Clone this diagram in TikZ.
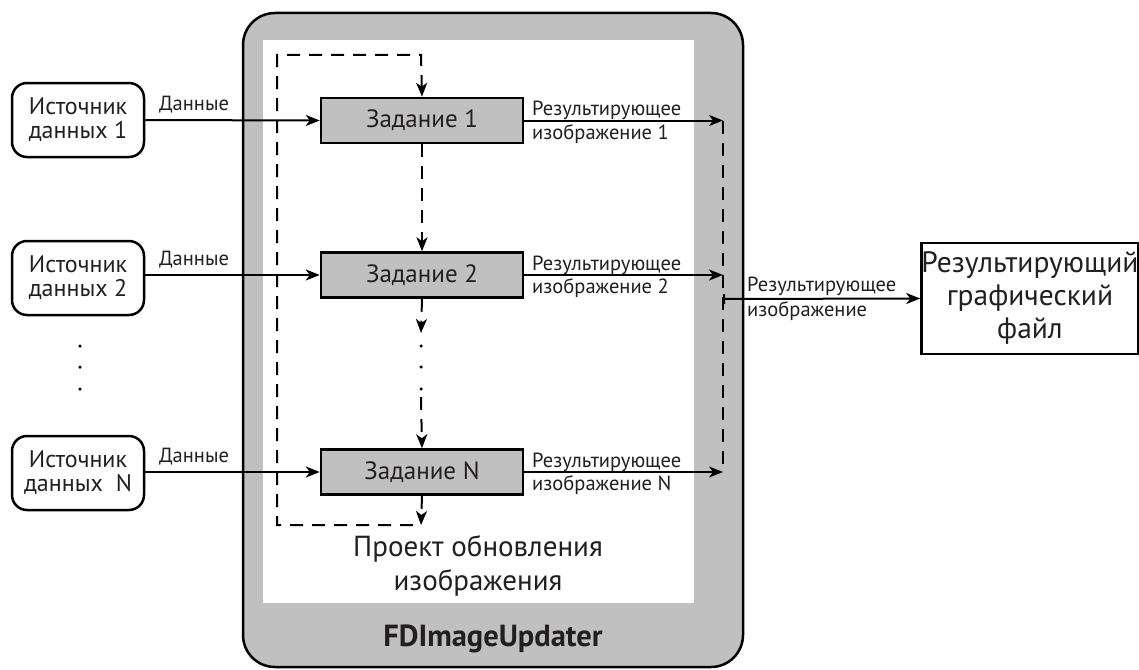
\documentclass[tikz,border=0pt]{standalone}
\usepackage{fontspec}
\setmainfont{PT Sans}
\usetikzlibrary{arrows.meta}
\definecolor{boxgray}{HTML}{C0C0C0}
\definecolor{txt}{HTML}{231F20}
\tikzset{
  srcbox/.style={draw, line width=2.5pt, rounded corners=15pt, minimum width=132pt, minimum height=74pt, align=center, font=\fontsize{24}{24}\selectfont, text=txt, inner sep=0pt},
  taskbox/.style={draw, line width=2.5pt, fill=boxgray, minimum width=202pt, minimum height=45pt, font=\fontsize{25}{26}\selectfont, text=txt, inner sep=0pt},
  resbox/.style={draw, line width=2.5pt, minimum width=214pt, minimum height=111pt, align=center, font=\fontsize{29.5}{33}\selectfont, text=txt, inner sep=0pt},
  arr/.style={line width=2pt, -{Stealth[length=14pt,width=11pt,inset=4pt]}},
  dasharr/.style={line width=2pt, dash pattern=on 13pt off 9pt, -{Stealth[length=14pt,width=11pt,inset=4pt]}},
  dashln/.style={line width=2pt, dash pattern=on 13pt off 9pt},
  small/.style={font=\fontsize{20.5}{22}\selectfont, text=txt, inner sep=0pt},
  dot/.style={circle, fill=black, inner sep=0pt, minimum size=3.5pt},
}
\begin{document}
\begin{tikzpicture}[x=1pt,y=-1pt]
\useasboundingbox (0,0) rectangle (1139,669);
% outer container
\draw[line width=2.5pt, fill=boxgray, rounded corners=32pt] (243,13) rectangle (743,667);
\fill[white] (263,40) rectangle (694,603);
\node[font=\bfseries\fontsize{30.5}{32}\selectfont, text=txt, anchor=base, inner sep=0pt] (app) at (493,646) {FDImageUpdater};
\node[font=\fontsize{29}{34}\selectfont, text=txt, align=center] (proj) at (478,566) {Проект обновления\\изображения};

% sources
\node[srcbox] (s1) at (78,120) {Источник\\данных 1};
\node[srcbox] (s2) at (78,278) {Источник\\данных 2};
\node[srcbox] (sN) at (78,473) {Источник\\данных\ \ N};
\node[dot] (ld1) at (80,346) {};
\node[dot] (ld2) at (80,367) {};
\node[dot] (ld3) at (80,389) {};

% tasks
\node[taskbox] (t1) at (422,120.5) {Задание 1};
\node[taskbox] (t2) at (422,275) {Задание 2};
\node[taskbox] (tN) at (422,472) {Задание N};

% data arrows
\draw[arr] (s1.east) -- (t1.west);
\draw[arr] (s2.east |- t2.west) -- (t2.west);
\draw[arr] (sN.east |- tN.west) -- (tN.west);
\node[small, anchor=base] (d1) at (194,110) {Данные};
\node[small, anchor=base] (d2) at (194,265) {Данные};
\node[small, anchor=base] (dN) at (194,462) {Данные};

% results
\coordinate (r1) at (723,120.5);
\coordinate (r2) at (723,275);
\coordinate (rN) at (723,472);
\draw[arr] (t1.east) -- (r1);
\draw[arr] (t2.east) -- (r2);
\draw[arr] (tN.east) -- (rN);
\node[small, anchor=base west] (l1a) at (532,115.5) {Результирующее};
\node[small, anchor=base west] (l1b) at (532,139) {изображение 1};
\node[small, anchor=base west] (l2a) at (532,270) {Результирующее};
\node[small, anchor=base west] (l2b) at (532,293.5) {изображение 2};
\node[small, anchor=base west] (lNa) at (532,467) {Результирующее};
\node[small, anchor=base west] (lNb) at (532,490.5) {изображение N};
\draw[dashln] (r1) -- (rN);

% output
\node[resbox] (res) at (1030,298.5) {Результирующий\\графический\\файл};
\coordinate (o) at (723,299);
\draw[line width=2pt, {Bar[width=10pt,line width=2pt]}-{Stealth[length=14pt,width=11pt,inset=4pt]}] (o) -- (res.west);
\node[small, anchor=base west] (loa) at (747,291) {Результирующее};
\node[small, anchor=base west] (lob) at (747,316) {изображение};

% control flow
\draw[dasharr] (t1.south) -- (t2.north);
\coordinate (m1) at (421,333);
\draw[dasharr] (t2.south) -- (m1);
\node[dot] (md1) at (421,346) {};
\node[dot] (md2) at (421,367) {};
\node[dot] (md3) at (421,389) {};
\coordinate (m2) at (421,397);
\draw[dasharr] (m2) -- (tN.north);
\coordinate (lb) at (421,525);
\draw[dasharr] (tN.south) -- (lb);
\coordinate (lbl) at (277,525);
\coordinate (ltl) at (277,55);
\coordinate (ltr) at (421,55);
\draw[dasharr] (413,525) -- (lbl) -- (ltl) -- (ltr) -- (t1.north);
\end{tikzpicture}
\end{document}
